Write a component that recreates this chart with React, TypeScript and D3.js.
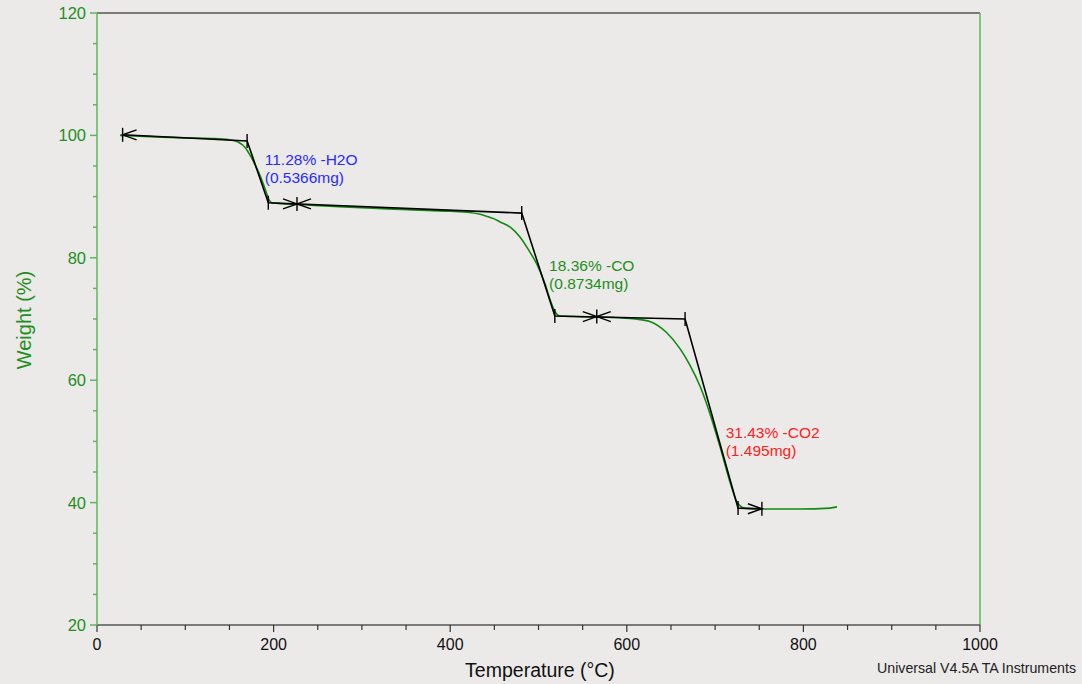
import React, { useEffect, useRef } from 'react';
import * as d3 from 'd3';

// TGA curve: temperature (°C), weight (%)
const temps = [26, 60, 100, 130, 150, 160, 168, 174, 179, 183, 187, 191, 194, 198, 205, 230, 280, 330, 380, 400, 422, 434, 441, 449, 456, 468, 479, 490, 498, 507, 514, 519, 524, 540, 570, 592, 610, 626, 645, 660, 671, 683, 694, 706, 717, 724, 728, 734, 751, 796, 830, 838];
const weights = [100.0, 99.8, 99.6, 99.5, 99.3, 98.9, 98.0, 96.6, 95.2, 94.0, 92.6, 91.0, 89.7, 89.0, 88.9, 88.7, 88.3, 88.0, 87.7, 87.6, 87.4, 87.1, 86.8, 86.4, 85.9, 85.0, 83.4, 81.0, 79.0, 75.9, 72.8, 71.1, 70.5, 70.4, 70.3, 70.2, 70.0, 69.6, 67.8, 65.2, 62.6, 59.0, 54.6, 48.9, 43.3, 40.3, 39.5, 39.05, 38.95, 38.95, 39.1, 39.3];

// tangent construction vertices
const consT = [29, 170, 194, 481, 518.5, 666, 726, 753];
const consW = [100.1, 99.1, 89.0, 87.3, 70.5, 70.0, 39.1, 39.0];
// extra marker positions on baselines
const midMarksT = [226.5, 566];
const midMarksW = [88.8, 70.4];

const stepLabels = ['11.28% -H2O', '18.36% -CO', '31.43% -CO2'];
const stepMasses = ['(0.5366mg)', '(0.8734mg)', '(1.495mg)'];
const labelT = [190, 512, 712];
const labelW = [95.1, 77.9, 50.6];
const labelColors = ['#2a2aff', '#1e8f1e', '#ff2020'];

const xTicks = [0, 200, 400, 600, 800, 1000];
const yTicks = [20, 40, 60, 80, 100, 120];

const W = 1082, H = 684;
const m = { left: 97, right: 102, top: 13, bottom: 59 };

export default function App() {
  const ref = useRef<SVGSVGElement>(null);

  useEffect(() => {
    document.body.style.margin = '0';
    const svg = d3.select(ref.current);
    svg.selectAll('*').remove();

    const x = d3.scaleLinear().domain([0, 1000]).range([m.left, W - m.right]);
    const y = d3.scaleLinear().domain([20, 120]).range([H - m.bottom, m.top]);
    const font = 'Liberation Sans, Arial, sans-serif';
    const axisGreen = '#5cb85c';

    svg.append('rect').attr('width', W).attr('height', H).attr('fill', '#ebeae8');

    // frame top & right
    svg.append('line').attr('x1', x(0)).attr('x2', x(1000)).attr('y1', y(120)).attr('y2', y(120))
      .attr('stroke', '#555').attr('stroke-width', 1.5);
    svg.append('line').attr('x1', x(1000)).attr('x2', x(1000)).attr('y1', y(120)).attr('y2', y(20))
      .attr('stroke', axisGreen).attr('stroke-width', 1.5);

    // x axis
    const gx = svg.append('g').attr('transform', `translate(0,${y(20)})`);
    gx.append('line').attr('x1', x(0)).attr('x2', x(1000)).attr('stroke', '#555').attr('stroke-width', 1.5);
    gx.selectAll('.mt').data(d3.range(0, 1001, 50)).join('line')
      .attr('x1', d => x(d)).attr('x2', d => x(d)).attr('y1', 0)
      .attr('y2', d => (d % 200 === 0 ? 7 : 5)).attr('stroke', '#333').attr('stroke-width', 1.2);
    gx.selectAll('text').data(xTicks).join('text')
      .attr('x', d => x(d)).attr('y', 25).attr('text-anchor', 'middle')
      .attr('font-family', font).attr('font-size', 16).attr('fill', '#111').text(d => d);

    // y axis
    const gy = svg.append('g').attr('transform', `translate(${x(0)},0)`);
    gy.append('line').attr('y1', y(20)).attr('y2', y(120)).attr('stroke', axisGreen).attr('stroke-width', 1.5);
    gy.selectAll('.mt').data(d3.range(20, 121, 5)).join('line')
      .attr('y1', d => y(d)).attr('y2', d => y(d)).attr('x1', 0)
      .attr('x2', d => (d % 20 === 0 ? -7 : -4)).attr('stroke', axisGreen).attr('stroke-width', 1.5);
    gy.selectAll('text').data(yTicks).join('text')
      .attr('x', -11).attr('y', d => y(d) + 6).attr('text-anchor', 'end')
      .attr('font-family', font).attr('font-size', 16.5).attr('fill', '#1e8f1e').text(d => d);

    // axis titles
    svg.append('text').attr('x', 540).attr('y', 677).attr('text-anchor', 'middle')
      .attr('font-family', font).attr('font-size', 19.5).attr('fill', '#111').text('Temperature (°C)');
    svg.append('text').attr('transform', `translate(31,${y(70) + 1}) rotate(-90)`).attr('text-anchor', 'middle')
      .attr('font-family', font).attr('font-size', 20).attr('fill', '#1e8f1e').text('Weight (%)');
    svg.append('text').attr('x', 1076).attr('y', 673).attr('text-anchor', 'end')
      .attr('font-family', font).attr('font-size', 14.2).attr('fill', '#222').text('Universal V4.5A TA Instruments');

    // curve
    const pts = temps.map((t, i) => [t, weights[i]] as [number, number]);
    svg.append('path').datum(pts)
      .attr('d', d3.line<[number, number]>().x(d => x(d[0])).y(d => y(d[1])).curve(d3.curveMonotoneX))
      .attr('fill', 'none').attr('stroke', '#118a11').attr('stroke-width', 1.6);

    // construction lines
    const cons = consT.map((t, i) => [t, consW[i]] as [number, number]);
    svg.append('path').datum(cons)
      .attr('d', d3.line<[number, number]>().x(d => x(d[0])).y(d => y(d[1])))
      .attr('fill', 'none').attr('stroke', '#000').attr('stroke-width', 1.6);

    const marks = svg.append('g').attr('stroke', '#000').attr('stroke-width', 1.4).attr('fill', 'none');
    const tick = (px: number, py: number) =>
      marks.append('line').attr('x1', px).attr('x2', px).attr('y1', py - 7).attr('y2', py + 7);
    const arrow = (px: number, py: number, dir: number) =>
      marks.append('path').attr('d', `M${px + dir * 14},${py - 5} L${px},${py} L${px + dir * 14},${py + 5}`);

    cons.forEach(d => tick(x(d[0]), y(d[1])));
    arrow(x(cons[0][0]), y(cons[0][1]), 1);
    arrow(x(cons[cons.length - 1][0]), y(cons[cons.length - 1][1]), -1);
    midMarksT.forEach((t, i) => {
      const px = x(t), py = y(midMarksW[i]);
      tick(px, py);
      arrow(px, py, -1);
      arrow(px, py, 1);
    });

    // step labels
    stepLabels.forEach((s, i) => {
      const t = svg.append('text').attr('font-family', font).attr('font-size', 15.5).attr('fill', labelColors[i]);
      t.append('tspan').attr('x', x(labelT[i])).attr('y', y(labelW[i])).text(s);
      t.append('tspan').attr('x', x(labelT[i])).attr('y', y(labelW[i]) + 18).text(stepMasses[i]);
    });
  }, []);

  return <svg ref={ref} width={W} height={H} style={{ display: 'block' }} />;
}
